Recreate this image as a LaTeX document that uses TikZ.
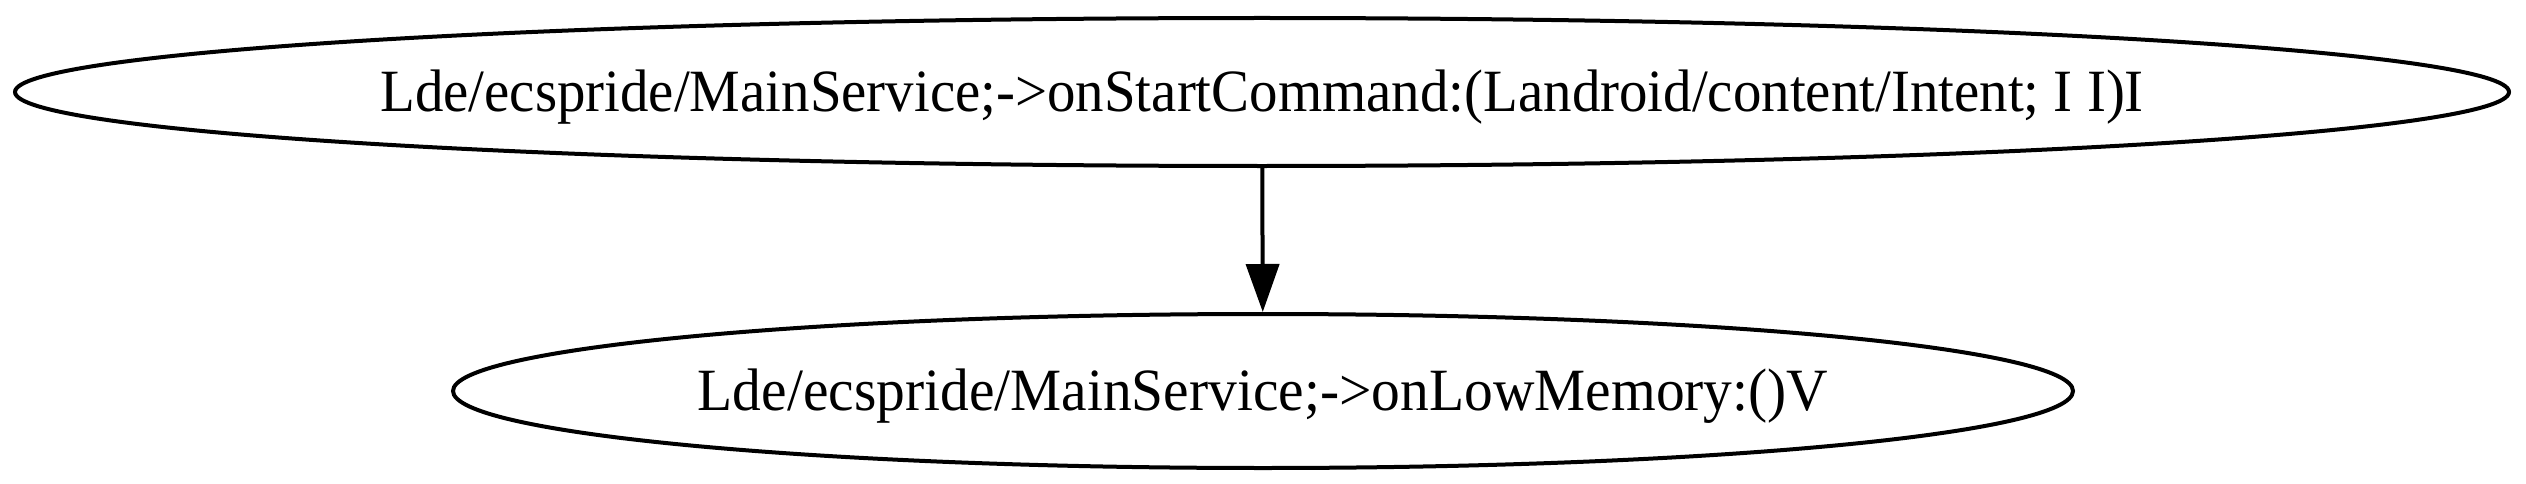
\documentclass[tikz,border=0pt]{standalone}
\usepackage{fontspec}
\setmainfont{Liberation Serif}
\usetikzlibrary{shapes.geometric,arrows.meta}
\begin{document}
\begin{tikzpicture}[x=1pt,y=1pt,
  fshape/.style={draw=black,line width=4pt,ellipse,inner sep=0pt},
  flabel/.style={inner sep=0pt,anchor=base,yshift=-19.5pt,font=\fontsize{60}{67}\selectfont},
  fedge/.style={draw=black,line width=4pt,-{Triangle[width=33pt,length=48pt]}}]
\useasboundingbox (0,0) rectangle (2526,483);
\node[fshape,minimum width=2494pt,minimum height=148pt] (a) at (1262,391) {};
\node[flabel] (atext) at (a.center)
  {\scalebox{0.948}[1]{Lde/ecspride/MainService;->onStartCommand:(Landroid/content/Intent; I I)I}};
\node[fshape,minimum width=1620pt,minimum height=154pt] (b) at (1263,92) {};
\node[flabel] (btext) at (b.center)
  {\scalebox{0.958}[1]{Lde/ecspride/MainService;->onLowMemory:()V}};
\draw[fedge] (a) -- (b);
\end{tikzpicture}
\end{document}
